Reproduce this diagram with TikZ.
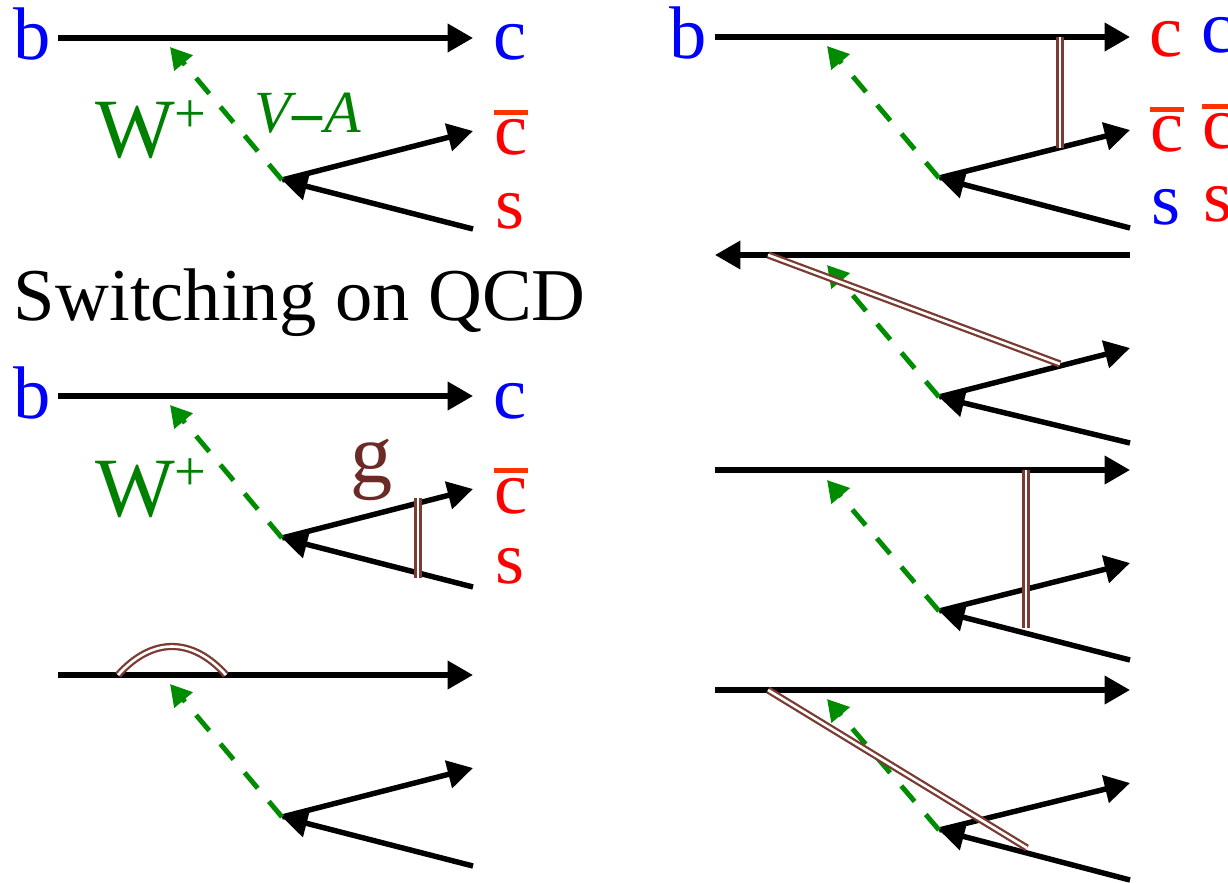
\documentclass[tikz,border=0pt]{standalone}
\usepackage{fontspec}
\usepackage{xcolor}
\usepackage{tikz}
\usetikzlibrary{arrows.meta,positioning,calc}
\setmainfont{Liberation Serif}

\definecolor{bluequark}{HTML}{0000FF}
\definecolor{redquark}{HTML}{FF0000}
\definecolor{barred}{HTML}{FF3300}
\definecolor{wgreen}{HTML}{008000}
\definecolor{wdash}{HTML}{008C00}
\definecolor{gluon}{HTML}{7A3B33}
\definecolor{gluontext}{HTML}{6B2A25}

% c with a bar over it
\newcommand{\cbar}{\leavevmode\rlap{\textcolor{barred}{\rule[0.53em]{0.45em}{0.08em}}}c}
\newcommand{\wplus}{W\raisebox{0.3em}{\fontsize{16}{16}\selectfont +}}

\begin{document}
\begin{tikzpicture}[
    x=0.01cm, y=-0.01cm,
    label/.style={anchor=base west, inner sep=0pt, outer sep=0pt, font=\fontsize{21.2}{25}\selectfont},
    blue label/.style={label, text=bluequark},
    red label/.style={label, text=redquark},
    wlabel/.style={label, text=wgreen, font=\fontsize{24}{28}\selectfont},
    fwd/.style={-{Triangle[length=7.2pt,width=7.8pt]}, line width=1.55pt, black},
    bwd/.style={{Triangle[length=7.2pt,width=7.8pt]}-, line width=1.55pt, black},
    wline/.style={-{Triangle[length=6pt,width=6.6pt]}, line width=1.4pt, wdash, dash pattern=on 5.8pt off 4.9pt},
    gline/.style={draw=gluon, line width=0.65pt, double=white, double distance=0.75pt}
]
    \useasboundingbox (0,0) rectangle (1228,882);

    % quark lines and W of each diagram
    \foreach \nm/\dx/\ytop/\ytip/\yv/\yup/\ydn/\st in {
        a/0/38/47/180/131/229/fwd,
        b/0/396/405/538/489/587/fwd,
        c/0/675/684/817/768/866/fwd,
        d/657/37/46/178/130/228/fwd,
        e/657/255/265/397/348/443/bwd,
        f/657/470/480/611/563/660/fwd,
        g/657/690/699/830/783/880/fwd}
    {
        \coordinate (\nm in) at (58+\dx,\ytop);
        \coordinate (\nm out) at (473+\dx,\ytop);
        \coordinate (\nm tip) at (170+\dx,\ytip);
        \coordinate (\nm v) at (282+\dx,\yv);
        \coordinate (\nm up) at (473+\dx,\yup);
        \coordinate (\nm dn) at (473+\dx,\ydn);
        \draw [\st] (\nm in) -- (\nm out);
        \draw [fwd] (\nm dn) -- (\nm v);
        \draw [fwd] (\nm v) -- (\nm up);
        \draw [wline] (\nm v) -- (\nm tip);
    }

    % gluons
    \coordinate (g1a) at (418,498);
    \coordinate (g1b) at (418,578);
    \coordinate (g2a) at (118,675);
    \coordinate (g2b) at (226,675);
    \coordinate (g3a) at (1060,37);
    \coordinate (g3b) at (1060,148);
    \coordinate (g4a) at (768,255);
    \coordinate (g4b) at (1060,364);
    \coordinate (g5a) at (1026,470);
    \coordinate (g5b) at (1026,628);
    \coordinate (g6a) at (768,690);
    \coordinate (g6b) at (1027,848);
    \draw [gline] (g1a) -- (g1b);
    \draw [gline] (g2a) .. controls (152,637) and (192,637) .. (g2b);
    \draw [gline] (g3a) -- (g3b);
    \draw [gline] (g4a) -- (g4b);
    \draw [gline] (g5a) -- (g5b);
    \draw [gline] (g6a) -- (g6b);

    % top left
    \node [blue label] (b1) at (14,60) {b};
    \node [blue label] (c1) at (493,60) {c};
    \node [red label] (cb1) at (494,155) {\cbar};
    \node [red label] (s1) at (495,228) {s};
    \node [wlabel] (w1) at (95,158) {\wplus};
    \node [label, text=wgreen, font=\fontsize{17}{22}\selectfont\itshape] (va) at (254,133) {V\kern.03em{\upshape\bfseries –}\kern.03em A};

    \node [label] (title) at (14,320) {Switching on QCD};

    % bottom left
    \node [blue label] (b2) at (14,418) {b};
    \node [blue label] (c2) at (493,418) {c};
    \node [red label] (cb2) at (494,513) {\cbar};
    \node [red label] (s2) at (495,583) {s};
    \node [wlabel] (w2) at (95,516) {\wplus};
    \node [wlabel, text=gluontext] (glabel) at (350,482) {g};

    % top right
    \node [blue label] (b3) at (669,59) {b};
    \node [red label] (c3) at (1149,57) {c};
    \node [blue label] (c4) at (1201,53) {c};
    \node [red label] (cb3) at (1150,152) {\cbar};
    \node [red label] (cb4) at (1202,149) {\cbar};
    \node [blue label] (s3) at (1151,224) {s};
    \node [red label] (s4) at (1203,221) {s};
\end{tikzpicture}
\end{document}
